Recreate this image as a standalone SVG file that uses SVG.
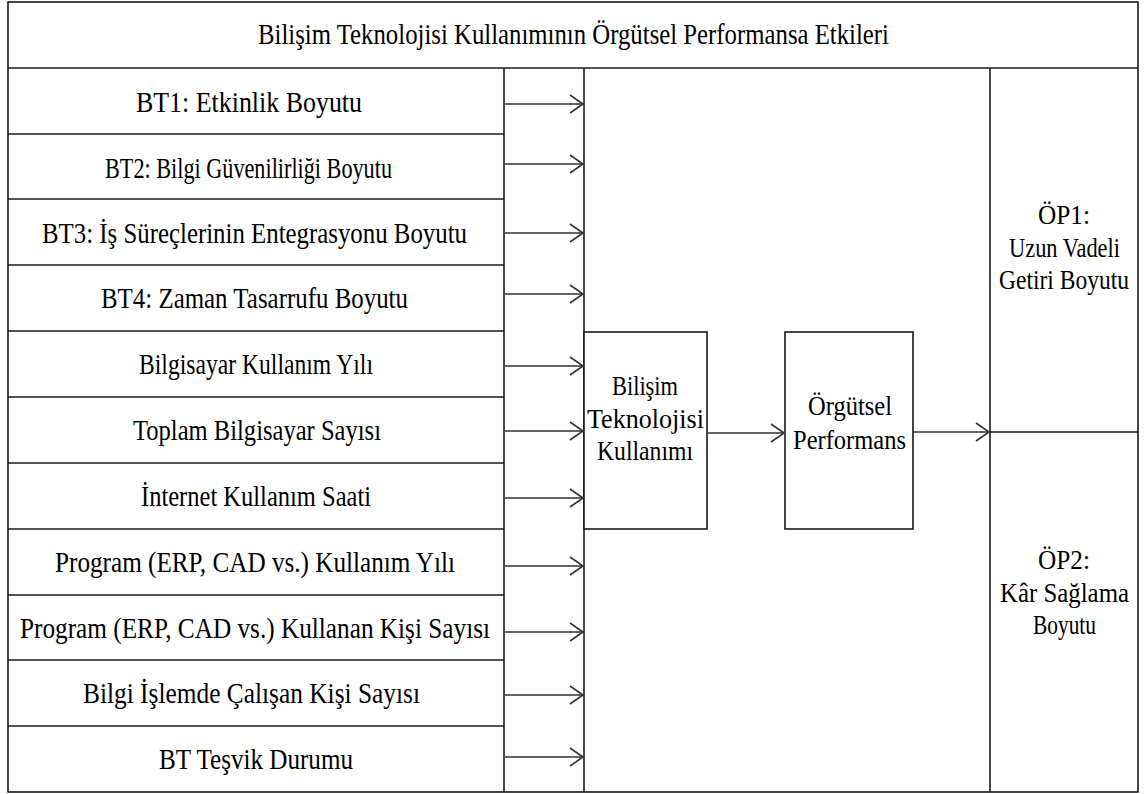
<svg xmlns="http://www.w3.org/2000/svg" width="1147" height="794" viewBox="0 0 1147 794">
<style>
.b{fill:#fff;stroke:#1a1a1a;stroke-width:1.6}
.l{stroke:#1a1a1a;stroke-width:1.6;fill:none}
.c{stroke:#333;stroke-width:1.6;fill:none}
</style>
<defs>
<marker id="ah" markerUnits="userSpaceOnUse" viewBox="-15 -11 17 22" markerWidth="17" markerHeight="22" refX="0" refY="0" orient="auto">
<path d="M-13,-9 L0,0 L-13,9" fill="none" stroke="#333" stroke-width="1.6"/>
</marker>
</defs>
<rect x="0" y="0" width="1147" height="794" fill="#fff"/>
<g id="frame">
<rect class="b" x="8" y="2" width="1130" height="790"/>
<line class="l" x1="8" y1="68" x2="1138" y2="68"/>
<line class="l" x1="504" y1="68" x2="504" y2="792"/>
<line class="l" x1="584" y1="68" x2="584" y2="792"/>
<line class="l" x1="990" y1="68" x2="990" y2="792"/>
<line class="l" x1="990" y1="432" x2="1138" y2="432"/>
<line class="l" x1="8" y1="134" x2="504" y2="134"/>
<line class="l" x1="8" y1="199" x2="504" y2="199"/>
<line class="l" x1="8" y1="265" x2="504" y2="265"/>
<line class="l" x1="8" y1="331" x2="504" y2="331"/>
<line class="l" x1="8" y1="397" x2="504" y2="397"/>
<line class="l" x1="8" y1="463" x2="504" y2="463"/>
<line class="l" x1="8" y1="529" x2="504" y2="529"/>
<line class="l" x1="8" y1="595" x2="504" y2="595"/>
<line class="l" x1="8" y1="660" x2="504" y2="660"/>
<line class="l" x1="8" y1="726" x2="504" y2="726"/>
</g>
<g id="title"><text font-family="Liberation Serif" font-size="30" x="258" y="44" textLength="631" lengthAdjust="spacingAndGlyphs">Bilişim Teknolojisi Kullanımının Örgütsel Performansa Etkileri</text></g>
<g id="bt1"><text font-family="Liberation Serif" font-size="30" x="136" y="112" textLength="226" lengthAdjust="spacingAndGlyphs">BT1: Etkinlik Boyutu</text></g>
<g id="bt2"><text font-family="Liberation Serif" font-size="30" x="105" y="178" textLength="287" lengthAdjust="spacingAndGlyphs">BT2: Bilgi Güvenilirliği Boyutu</text></g>
<g id="bt3"><text font-family="Liberation Serif" font-size="30" x="42" y="243" textLength="425" lengthAdjust="spacingAndGlyphs">BT3: İş Süreçlerinin Entegrasyonu Boyutu</text></g>
<g id="bt4"><text font-family="Liberation Serif" font-size="30" x="101" y="308" textLength="307" lengthAdjust="spacingAndGlyphs">BT4: Zaman Tasarrufu Boyutu</text></g>
<g id="bky"><text font-family="Liberation Serif" font-size="30" x="139" y="374" textLength="234" lengthAdjust="spacingAndGlyphs">Bilgisayar Kullanım Yılı</text></g>
<g id="tbs"><text font-family="Liberation Serif" font-size="30" x="133" y="440" textLength="248" lengthAdjust="spacingAndGlyphs">Toplam Bilgisayar Sayısı</text></g>
<g id="iks"><text font-family="Liberation Serif" font-size="30" x="141" y="506" textLength="230" lengthAdjust="spacingAndGlyphs">İnternet Kullanım Saati</text></g>
<g id="pky"><text font-family="Liberation Serif" font-size="30" x="55" y="572" textLength="400" lengthAdjust="spacingAndGlyphs">Program (ERP, CAD vs.) Kullanım Yılı</text></g>
<g id="pkks"><text font-family="Liberation Serif" font-size="30" x="20" y="638" textLength="470" lengthAdjust="spacingAndGlyphs">Program (ERP, CAD vs.) Kullanan Kişi Sayısı</text></g>
<g id="bicks"><text font-family="Liberation Serif" font-size="30" x="83" y="703" textLength="337" lengthAdjust="spacingAndGlyphs">Bilgi İşlemde Çalışan Kişi Sayısı</text></g>
<g id="btd"><text font-family="Liberation Serif" font-size="30" x="159" y="769" textLength="194" lengthAdjust="spacingAndGlyphs">BT Teşvik Durumu</text></g>
<g id="btk">
<rect class="b" x="584" y="332" width="123" height="197"/>
<text font-family="Liberation Serif" font-size="28" x="612" y="395" textLength="66" lengthAdjust="spacingAndGlyphs">Bilişim</text>
<text font-family="Liberation Serif" font-size="28" x="587" y="428" textLength="117" lengthAdjust="spacingAndGlyphs">Teknolojisi</text>
<text font-family="Liberation Serif" font-size="28" x="597" y="460" textLength="96" lengthAdjust="spacingAndGlyphs">Kullanımı</text>
</g>
<g id="op">
<rect class="b" x="785" y="332" width="128" height="197"/>
<text font-family="Liberation Serif" font-size="28" x="808" y="415" textLength="84" lengthAdjust="spacingAndGlyphs">Örgütsel</text>
<text font-family="Liberation Serif" font-size="28" x="793" y="449" textLength="113" lengthAdjust="spacingAndGlyphs">Performans</text>
</g>
<g id="op1">
<text font-family="Liberation Serif" font-size="27" x="1038" y="224" textLength="52" lengthAdjust="spacingAndGlyphs">ÖP1:</text>
<text font-family="Liberation Serif" font-size="27" x="1009" y="257" textLength="111" lengthAdjust="spacingAndGlyphs">Uzun Vadeli</text>
<text font-family="Liberation Serif" font-size="27" x="999" y="289" textLength="130" lengthAdjust="spacingAndGlyphs">Getiri Boyutu</text>
</g>
<g id="op2">
<text font-family="Liberation Serif" font-size="27" x="1038" y="569" textLength="52" lengthAdjust="spacingAndGlyphs">ÖP2:</text>
<text font-family="Liberation Serif" font-size="27" x="1000" y="602" textLength="129" lengthAdjust="spacingAndGlyphs">Kâr Sağlama</text>
<text font-family="Liberation Serif" font-size="27" x="1033" y="634" textLength="63" lengthAdjust="spacingAndGlyphs">Boyutu</text>
</g>
<g id="connectors">
<line class="c" x1="505" y1="104" x2="583" y2="104" marker-end="url(#ah)"/>
<line class="c" x1="505" y1="164" x2="583" y2="164" marker-end="url(#ah)"/>
<line class="c" x1="505" y1="233" x2="583" y2="233" marker-end="url(#ah)"/>
<line class="c" x1="505" y1="294" x2="583" y2="294" marker-end="url(#ah)"/>
<line class="c" x1="505" y1="366" x2="583" y2="366" marker-end="url(#ah)"/>
<line class="c" x1="505" y1="431" x2="583" y2="431" marker-end="url(#ah)"/>
<line class="c" x1="505" y1="498" x2="583" y2="498" marker-end="url(#ah)"/>
<line class="c" x1="505" y1="566" x2="583" y2="566" marker-end="url(#ah)"/>
<line class="c" x1="505" y1="632" x2="583" y2="632" marker-end="url(#ah)"/>
<line class="c" x1="505" y1="695" x2="583" y2="695" marker-end="url(#ah)"/>
<line class="c" x1="505" y1="757" x2="583" y2="757" marker-end="url(#ah)"/>
<line class="c" x1="707" y1="433" x2="784" y2="433" marker-end="url(#ah)"/>
<line class="c" x1="913" y1="432" x2="989" y2="432" marker-end="url(#ah)"/>
</g>
</svg>
